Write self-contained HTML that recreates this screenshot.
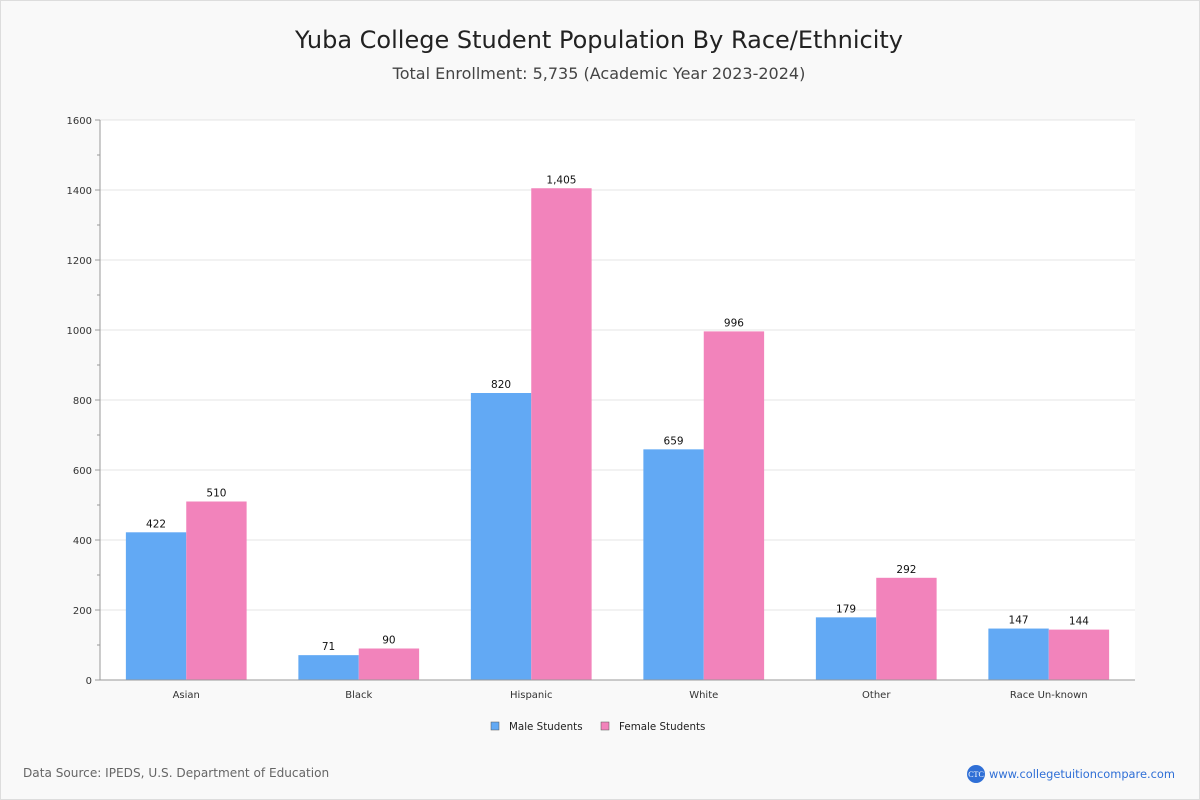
<!DOCTYPE html>
<html><head><meta charset="utf-8"><style>
body{margin:0;background:#fff;font-family:"DejaVu Sans","Liberation Sans",sans-serif;}
#wrap{position:relative;width:1200px;height:800px;box-sizing:border-box;border:1px solid #ddd;background:#f9f9f9;overflow:hidden;}
#chart{position:absolute;left:-1px;top:-1px;}
</style></head><body>
<div id="wrap">
<svg id="chart" width="1200" height="800" xmlns="http://www.w3.org/2000/svg">
<text x="599" y="48" text-anchor="middle" font-size="24" fill="#222">Yuba College Student Population By Race/Ethnicity</text>
<text x="599" y="79" text-anchor="middle" font-size="16" fill="#444">Total Enrollment: 5,735 (Academic Year 2023-2024)</text>
<rect x="100" y="120" width="1035" height="560" fill="#fff"/>
<g id="grid"></g><g id="bars"></g>
<line x1="100" y1="120" x2="100" y2="680" stroke="#999"/>
<line x1="100" y1="680" x2="1135" y2="680" stroke="#999"/>
<g>
<rect x="491" y="722" width="8" height="8" fill="#62a9f4" stroke="#555" stroke-width="0.5"/>
<text x="509" y="730" font-size="10.3" fill="#222">Male Students</text>
<rect x="601" y="722" width="8" height="8" fill="#f283bb" stroke="#555" stroke-width="0.5"/>
<text x="619" y="730" font-size="10.3" fill="#222">Female Students</text>
</g>
<text x="23" y="777" font-size="12.1" fill="#666">Data Source: IPEDS, U.S. Department of Education</text>
<circle cx="976" cy="774" r="9" fill="#2f6fd6"/>
<text x="976" y="777" text-anchor="middle" font-size="8" fill="#fff" font-family="Liberation Serif,serif">CTC</text>
<text x="989" y="778" font-size="11.4" fill="#2f6fd6">www.collegetuitioncompare.com</text>
</svg></div>
<script>
const categories=["Asian","Black","Hispanic","White","Other","Race Un-known"];
const maleValues=[422,71,820,659,179,147];
const femaleValues=[510,90,1405,996,292,144];
const yTicks=[0,200,400,600,800,1000,1200,1400,1600];
const NS="http://www.w3.org/2000/svg";
const x0=100,x1=1135,y0=680,y1=120,yMax=1600;
const band=(x1-x0)/categories.length;
function yScale(v){return y0-(v/yMax)*(y0-y1);}
function xCenter(i){return x0+band*(i+0.5);}
function mk(tag,attrs,parent,text){const e=document.createElementNS(NS,tag);for(const k in attrs)e.setAttribute(k,attrs[k]);if(text!==undefined)e.textContent=text;parent.appendChild(e);return e;}
const grid=document.getElementById('grid'),bars=document.getElementById('bars');
yTicks.forEach(t=>{const y=yScale(t);
 const l=mk('line',{x1:x0,x2:x1,y1:y,y2:y,stroke:'#e4e4e4'},grid);
 
 
 mk('line',{x1:95,x2:100,y1:y,y2:y,stroke:'#999'},grid);
 const tx=mk('text',{x:92,y:y+4,'text-anchor':'end','font-size':10,fill:'#333'},grid,String(t));
 
 
 const my=yScale(t+100);
 if(t<1600)mk('line',{x1:97,x2:100,y1:my,y2:my,stroke:'#999'},grid);
});
const bw=band*0.35;
function fmt(v){return v.toLocaleString('en-US');}
categories.forEach((c,i)=>{const cx=xCenter(i);
 [[maleValues[i],'#62a9f4',cx-bw,'bar-male'],[femaleValues[i],'#f283bb',cx,'bar-female']].forEach(([v,col,x,nm])=>{
  const r=mk('rect',{x:x,y:yScale(v),width:bw,height:y0-yScale(v),fill:col},bars);
  
  
  const t=mk('text',{x:x+bw/2,y:yScale(v)-5,'text-anchor':'middle','font-size':10.5,fill:'#111'},bars,fmt(v));
  
  
 });
 const lb=mk('text',{x:cx,y:698,'text-anchor':'middle','font-size':10,fill:'#333'},bars,c);
 
 
});
</script>
</body></html>
